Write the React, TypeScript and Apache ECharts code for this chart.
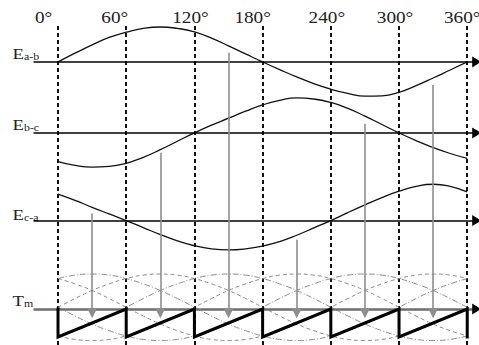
import { useEffect, useRef } from 'react';
import * as echarts from 'echarts';

// ---- data ----
const degrees = [0, 15, 30, 45, 60, 75, 90, 105, 120, 135, 150, 165, 180, 195, 210, 225, 240, 255, 270, 285, 300, 315, 330, 345, 360];
const waveAB = [0, 0.25, 0.49, 0.7, 0.85, 0.96, 1.0, 0.96, 0.86, 0.68, 0.46, 0.23, 0, -0.22, -0.43, -0.62, -0.78, -0.9, -0.98, -0.97, -0.87, -0.68, -0.46, -0.23, 0];
const waveBC = [-0.82, -0.93, -0.98, -0.96, -0.87, -0.7, -0.48, -0.24, 0, 0.22, 0.42, 0.62, 0.8, 0.93, 1.0, 0.97, 0.87, 0.7, 0.48, 0.24, 0, -0.22, -0.42, -0.59, -0.73];
const waveCA = [0.76, 0.58, 0.38, 0.19, 0, -0.2, -0.4, -0.58, -0.72, -0.81, -0.84, -0.81, -0.73, -0.6, -0.42, -0.21, 0, 0.23, 0.45, 0.66, 0.84, 0.98, 1.04, 0.98, 0.82];
const tmWaveA = [0, 0.25, 0.48, 0.67, 0.82, 0.92, 0.95, 0.92, 0.82, 0.67, 0.48, 0.25, 0, -0.25, -0.48, -0.67, -0.82, -0.92, -0.95, -0.92, -0.82, -0.67, -0.48, -0.25, 0];
const tmWaveB = [-0.82, -0.92, -0.95, -0.92, -0.82, -0.67, -0.48, -0.25, 0, 0.25, 0.48, 0.67, 0.82, 0.92, 0.95, 0.92, 0.82, 0.67, 0.48, 0.25, 0, -0.25, -0.48, -0.67, -0.82];
const tmWaveC = [0.82, 0.67, 0.48, 0.25, 0, -0.25, -0.48, -0.67, -0.82, -0.92, -0.95, -0.92, -0.82, -0.67, -0.48, -0.25, 0, 0.25, 0.48, 0.67, 0.82, 0.92, 0.95, 0.92, 0.82];
const tickDegrees = [0, 60, 120, 180, 240, 300, 360];
const tickLabels = ['0°', '60°', '120°', '180°', '240°', '300°', '360°'];
const arrowDegrees = [30, 90, 150, 210, 270, 330];
const arrowStarts = [-4.34, -2.6, 0.26, -5.09, -1.77, -0.66];
const sawDegrees = [0, 0, 60, 60, 120, 120, 180, 180, 240, 240, 300, 300, 360, 360];
const sawValues = [0, -0.8, 0, -0.8, 0, -0.8, 0, -0.8, 0, -0.8, 0, -0.8, 0, -0.8];
const bandLabels = [
  { main: 'E', sub: 'a-b' },
  { main: 'E', sub: 'b-c' },
  { main: 'E', sub: 'c-a' },
  { main: 'T', sub: 'm' },
];

// ---- layout / style constants ----
const BAND_AB = 0;
const BAND_BC = -2.03;
const BAND_CA = -4.54;
const BAND_TM = -7.07;
const TM_CENTER = -7.02;
const ARROW_END = -7.19;
const X_MIN = -22;
const X_MAX = 370;
const AXIS_START = -21.5;
const AXIS_END = 368;
const HEAD_X = 368.3;
const LABEL_SHIFT = [-14.5, -11.5, -4, -10, -4, -4, -5];
const LABEL_BASE_Y = [61.5, 132.5, 222.5, 308.5];
const SERIF = '"Liberation Serif", "Times New Roman", serif';

export default function App() {
  const ref = useRef<HTMLDivElement>(null);
  useEffect(() => {
    if (!ref.current) return;
    document.body.style.margin = '0';
    const chart = echarts.init(ref.current, undefined, { renderer: 'svg' });

    const waveSeries = (vals: number[], off: number) => ({
      type: 'line', data: degrees.map((d, i) => [d, off + vals[i]]), smooth: 0.5, showSymbol: false,
      silent: true, clip: false, lineStyle: { color: '#111', width: 1.3 }, z: 4,
    });
    const tmSeries = (vals: number[], sign: number, dash: number[]) => ({
      type: 'line', data: degrees.map((d, i) => [d, TM_CENTER + sign * vals[i]]), smooth: 0.5, showSymbol: false,
      silent: true, clip: false, lineStyle: { color: '#8a8a8a', width: 1, type: dash }, z: 2,
    });
    const axisLine = (off: number, color: string, width: number) => ({
      type: 'lines', coordinateSystem: 'cartesian2d', silent: true, clip: false, symbol: 'none',
      lineStyle: { color, width, opacity: 1 },
      data: [{ coords: [[AXIS_START, off], [AXIS_END, off]] }], z: 5,
    });

    const option: any = {
      animation: false,
      backgroundColor: '#fff',
      grid: { left: 33, right: 0.4, top: 23.5, bottom: -0.5 },
      xAxis: { type: 'value', min: X_MIN, max: X_MAX, show: false },
      yAxis: { type: 'value', min: -8.1, max: 1.1, show: false },
      series: [
        {
          type: 'lines', coordinateSystem: 'cartesian2d', silent: true, clip: false, symbol: 'none',
          lineStyle: { color: '#111', width: 2, type: [4, 3], opacity: 1 },
          data: tickDegrees.map((d) => ({ coords: [[d, 1.03], [d, -8.1]] })), z: 1,
        },
        tmSeries(tmWaveA, 1, [4, 3]),
        tmSeries(tmWaveB, 1, [4, 3]),
        tmSeries(tmWaveC, 1, [4, 3]),
        tmSeries(tmWaveA, -1, [6, 2, 1, 2]),
        tmSeries(tmWaveB, -1, [6, 2, 1, 2]),
        tmSeries(tmWaveC, -1, [6, 2, 1, 2]),
        waveSeries(waveAB, BAND_AB),
        waveSeries(waveBC, BAND_BC),
        waveSeries(waveCA, BAND_CA),
        axisLine(BAND_AB, '#000', 1.5),
        axisLine(BAND_BC, '#000', 1.5),
        axisLine(BAND_CA, '#000', 1.5),
        axisLine(BAND_TM, '#6e6e6e', 2.5),
        {
          type: 'scatter', silent: true, clip: false, symbol: 'triangle', symbolRotate: -90, symbolSize: [11, 9],
          itemStyle: { color: '#000', opacity: 1 },
          data: [BAND_AB, BAND_BC, BAND_CA, BAND_TM].map((o) => [HEAD_X, o]), z: 6,
        },
        {
          type: 'lines', coordinateSystem: 'cartesian2d', silent: true, clip: false,
          symbol: ['none', 'triangle'], symbolSize: 10,
          lineStyle: { color: '#8d8d8d', width: 1.6, opacity: 1 },
          data: arrowDegrees.map((d, i) => ({ coords: [[d, arrowStarts[i]], [d, ARROW_END]] })), z: 6,
        },
        {
          type: 'line', data: sawDegrees.map((d, i) => [d, BAND_TM + sawValues[i]]), showSymbol: false,
          silent: true, clip: false, lineStyle: { color: '#000', width: 3, join: 'miter', cap: 'square' }, z: 7,
        },
      ],
    };
    chart.setOption(option);

    const graphics: any[] = [];
    tickDegrees.forEach((d, i) => {
      const px = chart.convertToPixel({ xAxisIndex: 0 }, d) as number;
      graphics.push({
        type: 'text', x: px + LABEL_SHIFT[i], y: 18, scaleX: 1.2, silent: true,
        style: { text: tickLabels[i], fill: '#222', font: `16px ${SERIF}`, align: 'center', verticalAlign: 'middle' },
      });
    });
    bandLabels.forEach((b, i) => {
      graphics.push({
        type: 'text', x: 12.5, y: LABEL_BASE_Y[i], scaleX: 1.25, silent: true,
        style: {
          text: `{m|${b.main}}{s|${b.sub}}`, align: 'left', verticalAlign: 'bottom', fill: '#222',
          rich: {
            m: { fontSize: 15, fontFamily: SERIF, fill: '#222', verticalAlign: 'bottom' },
            s: { fontSize: 9.5, fontFamily: SERIF, fill: '#222', verticalAlign: 'bottom' },
          },
        },
      });
    });
    chart.setOption({ graphic: graphics });

    return () => chart.dispose();
  }, []);
  return <div ref={ref} style={{ position: 'fixed', left: 0, top: 0, width: 479, height: 345 }} />;
}
